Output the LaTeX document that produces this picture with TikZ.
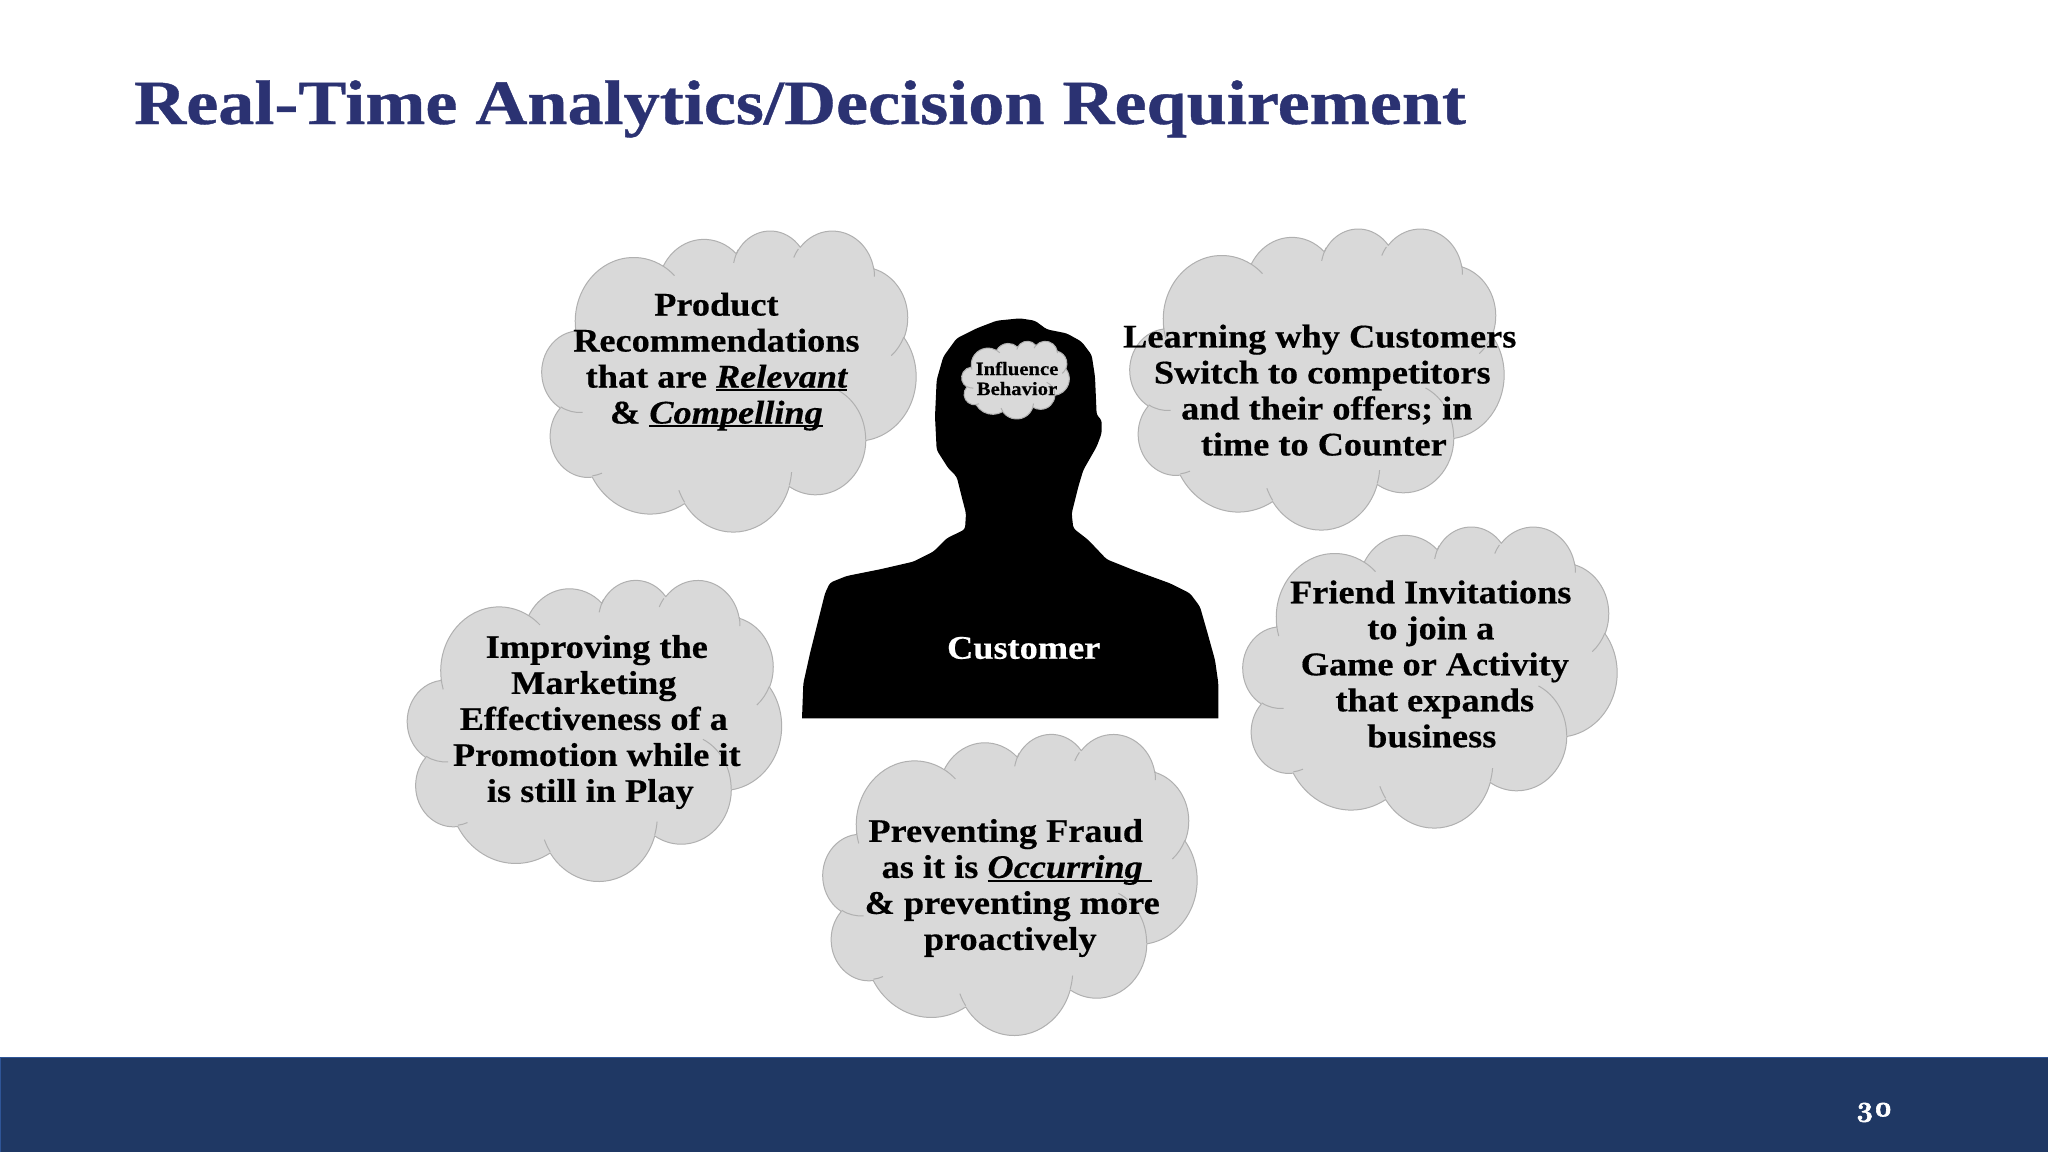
\documentclass[tikz,border=0pt]{standalone}
\usepackage{fontspec}
\setmainfont{Liberation Serif}[BoldFont={Liberation Serif Bold},BoldItalicFont={Liberation Serif Bold Italic}]
\newfontfamily\bodyf[FakeStretch=1.1,FakeBold=0.4,BoldFont={Liberation Serif Bold},BoldItalicFont={Liberation Serif Bold Italic}]{Liberation Serif}
\newfontfamily\titlef[FakeStretch=1.145,FakeBold=0.6,BoldFont={Liberation Serif Bold}]{Liberation Serif}
\newfontfamily\osf[Numbers=OldStyle,FakeBold=2]{Latin Modern Roman}
\definecolor{titleblue}{HTML}{2B3272}
\definecolor{footblue}{HTML}{1F3864}
\definecolor{footedge}{HTML}{2F5597}
\definecolor{cloudfill}{HTML}{D9D9D9}
\definecolor{cloudedge}{HTML}{B0B0B0}
\tikzset{
  cloudbody/.style={fill=cloudfill,draw=cloudedge,line width=1pt,line join=round},
  cloudline/.style={draw=cloudedge,line width=1pt},
  cloudtext/.style={align=center,inner sep=0pt,text=black,font=\bodyf\bfseries\fontsize{33}{36}\selectfont},
  smalltext/.style={align=center,inner sep=0pt,text=black,font=\bodyf\bfseries\fontsize{18.8}{20}\selectfont},
}
\newlength\ulw
\newcommand\ulit[1]{\settowidth\ulw{\itshape #1}\leavevmode\rlap{\rule[-3.6pt]{\ulw}{1.7pt}}{\itshape #1}}
\newcommand\sh[1]{\hspace*{#1pt}}
\newcommand\cloudshape[4]{%
  \pgfmathsetmacro\cw{#3/432}\pgfmathsetmacro\ch{#4/432}%
  \begin{scope}[shift={(#1,#2)},x=\cw pt,y=-\ch pt]
  \path[cloudbody] (39,143.7)
    \foreach \w/\h/\s/\d [evaluate=\s as \tA using {atan2(\w*sin(\s),\h*cos(\s))},
                          evaluate=\s as \tB using {atan2(\w*sin(\s+\d),\h*cos(\s+\d))},
                          evaluate=\tB as \dt using {mod(\tB-\tA+720,360)}] in
    {67.53/91.90/-190.4875/123.7805,
     53.33/72.67/-144.1024/89.9452,
     43.65/59.45/-145.8079/99.7230,
     48.57/65.95/-130.9861/117.2417,
     53.33/72.73/-78.7089/109.0269,
     67.75/92.20/-46.2673/130.2690,
     57.85/78.67/0.6250/114.0333,
     67.52/92.15/22.4516/115.1726,
     77.20/105.43/66.2426/75.7110,
     43.60/59.18/-274.9421/146.7356,
     43.45/59.45/-246.8285/152.5189}
    { arc[start angle=\tA,delta angle=\dt,x radius=\w,y radius=\h] } -- cycle;
  \foreach \px/\py/\w/\h/\s/\d [evaluate=\s as \tA using {atan2(\w*sin(\s),\h*cos(\s))},
                          evaluate=\s as \tB using {atan2(\w*sin(\s+\d),\h*cos(\s+\d))},
                          evaluate=\tB as \dt using {mod(\tB-\tA+720,360)}] in
    {46.93/261.77/43.45/59.45/86.742/26.430,
     69.28/348.99/43.60/59.18/73.6105/11.4475,
     164.78/390.90/67.52/92.15/137.6242/14.0811,
     288.27/347.51/67.52/92.15/6.4533/15.9984,
     341.29/229.54/57.85/78.67/-70.2924/70.9174,
     417.98/153.54/53.33/72.73/30.318/27.751,
     383.24/54.26/48.57/65.95/-13.744/14.859,
     290.78/39.52/43.65/59.45/-149.1815/15.4078,
     221.41/47.20/53.33/72.67/-163.494/19.691,
     140.00/51.92/67.53/91.90/-66.707/12.319,
     41.27/157.89/67.53/91.90/157.4/12.1}
    { \draw[cloudline] (\px,\py) arc[start angle=\tA,delta angle=\dt,x radius=\w,y radius=\h]; }
  \end{scope}}
\begin{document}
\begin{tikzpicture}[x=1pt,y=-1pt]
\useasboundingbox (0,0) rectangle (2048,1152);
\fill[white] (0,0) rectangle (2048,1152);
% footer
\fill[footblue] (0,1057) rectangle (2048,1152);
\draw[footedge,line width=1.2pt] (0.6,1152) -- (0.6,1057.6) -- (2048,1057.6);
\node[text=white,inner sep=0pt,font=\osf\bfseries\fontsize{29}{30}\selectfont] (page) at (1874,1112.5) {30};
% title
\node[anchor=base west,inner sep=0pt,text=titleblue,font=\titlef\bfseries\fontsize{63}{66}\selectfont] (title) at (134,124) {Real-Time Analytics/Decision Requirement};
% clouds
\cloudshape{542}{230}{374}{301}
\cloudshape{1130}{228}{374}{301}
\cloudshape{1243}{526}{374}{301}
\cloudshape{407.5}{579.4}{374}{301}
\cloudshape{823}{733.4}{374}{301}
% silhouette
\begin{scope}[shift={(780,300)},x=0.33333pt,y=-0.33333pt]
\fill[black,rounded corners=3pt] (700,1255) [sharp corners] -- (66,1255) [rounded corners=3pt] -- (70,1150) -- (90,1060) -- (115,960) -- (135,880) -- (150,848) -- (200,828) -- (300,808) -- (400,785) -- (460,755) -- (500,715) -- (555,688) -- (558,640) -- (545,590) -- (530,530) -- (505,505) -- (470,450) -- (465,350) -- (470,240) -- (490,170) -- (530,115) -- (590,85) -- (650,62) -- (720,55) -- (765,62) -- (800,88) -- (860,100) -- (905,125) -- (935,165) -- (945,230) -- (950,345) -- (965,360) -- (965,400) -- (950,440) -- (910,510) -- (895,560) -- (875,640) -- (880,685) -- (925,720) -- (980,778) -- (1060,810) -- (1170,850) -- (1230,880) -- (1260,920) -- (1280,990) -- (1305,1080) -- (1315,1150) [sharp corners] -- (1315,1255) -- cycle;
\end{scope}
\cloudshape{961.7}{341}{107.6}{77.7}
% texts
\node[cloudtext] (c1) at (716.4,361.6) {Product\\Recommendations\\that are \ulit{Relevant}\\\& \ulit{Compelling}};
\node[cloudtext] (c2) at (1321.8,390.2) {\sh{-4}Learning why Customers\\\sh{1}Switch to competitors\\\sh{10}and their offers; in\\\sh{4}time to Counter};
\node[cloudtext] (c3) at (1432.8,664) {\sh{-4}Friend Invitations\\\sh{-4}to join a\\\sh{4}Game or Activity\\\sh{4}that expands\\\sh{-2}business};
\node[cloudtext] (c4) at (594.3,722) {\sh{5}Improving the\\\sh{-1}Marketing\\\sh{-1}Effectiveness of a\\\sh{5}Promotion while it\\\sh{-8}is still in Play};
\node[cloudtext] (c5) at (1012.2,888) {\sh{-13}Preventing Fraud\\as it is \ulit{Occurring\ }\\\& preventing more\\\sh{-4}proactively};
\node[smalltext] (brain) at (1017,378.5) {Influence\\Behavior};
\node[cloudtext,text=white] (cust) at (1023.7,648) {Customer};
\end{tikzpicture}
\end{document}
